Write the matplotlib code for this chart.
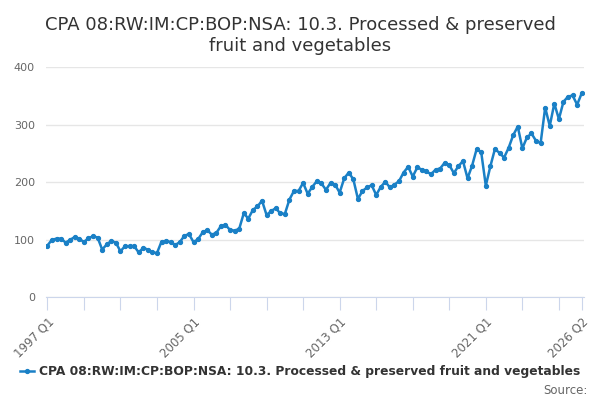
import matplotlib
matplotlib.use('Agg')
import matplotlib.pyplot as plt

plt.rcParams['font.family'] = ['DejaVu Sans']

# quarters 1997 Q1 .. 2026 Q2
quarters = ['%d Q%d' % (y, q) for y in range(1997, 2027) for q in range(1, 5)][:118]

values = [
    90, 100, 102, 102, 95, 100, 105, 102, 96, 103, 106, 104,
    83, 92, 98, 95, 80, 89, 89, 89, 78, 86, 83, 78,
    77, 97, 98, 96, 91, 96, 107, 110, 96, 101, 113, 117,
    109, 112, 124, 126, 117, 116, 119, 146, 137, 152, 158, 168,
    143, 150, 155, 146, 145, 170, 185, 185, 199, 180, 192, 202,
    198, 187, 199, 196, 182, 207, 217, 205, 171, 185, 191, 195,
    178, 192, 201, 191, 196, 202, 217, 227, 210, 226, 222, 219,
    214, 222, 224, 234, 230, 216, 228, 237, 207, 229, 258, 252,
    194, 228, 258, 251, 243, 260, 282, 297, 259, 278, 285, 272,
    268, 330, 298, 337, 310, 340, 349, 351, 335, 355,
]

shown_labels = ['1997 Q1', '2005 Q1', '2013 Q1', '2021 Q1', '2026 Q2']
series_name = 'CPA 08:RW:IM:CP:BOP:NSA: 10.3. Processed & preserved fruit and vegetables'
line_color = '#1a80c6'

fig = plt.figure(figsize=(6, 4), dpi=100)
ax = fig.add_axes([46 / 600, 1 - 297.3 / 400, (584 - 46) / 600, (297.3 - 67.3) / 400])

x = list(range(len(values)))
line, = ax.plot(x, values, color=line_color, lw=1.8, marker='o', ms=2.8, label=series_name)

ax.set_ylim(0, 400)
ax.set_xlim(-0.3, len(values) - 0.5)
ax.set_yticks([0, 100, 200, 300, 400])
ax.yaxis.grid(True, color='#e6e6e6', lw=1)
ax.set_axisbelow(True)
ax.tick_params(axis='y', length=0, labelsize=8, labelcolor='#666666', pad=8)

# ticks every 2 years plus the last quarter
tick_pos = list(range(0, len(values), 8)) + [len(values) - 1]
tick_lab = [quarters[p] if quarters[p] in shown_labels else '' for p in tick_pos]
ax.set_xticks(tick_pos)
ax.set_xticklabels(tick_lab, rotation=45, ha='right', rotation_mode='anchor')
ax.tick_params(axis='x', length=9, color='#ccd6eb', labelsize=8.5, labelcolor='#666666', pad=4)

for s in ['top', 'right', 'left']:
    ax.spines[s].set_visible(False)
ax.spines['bottom'].set_color('#ccd6eb')

fig.text(0.5, 0.96, 'CPA 08:RW:IM:CP:BOP:NSA: 10.3. Processed & preserved\nfruit and vegetables',
         ha='center', va='top', fontsize=13, color='#333333', linespacing=1.2)

fig.legend(handles=[line], loc='center', bbox_to_anchor=(0.5, 0.07), frameon=False,
           prop={'size': 8.8, 'weight': 'bold'}, labelcolor='#333333',
           handlelength=1.2, handletextpad=0.4)

fig.text(588 / 600, 1 - 390 / 400, 'Source:', ha='right', va='center', fontsize=8.5, color='#666666')

fig.savefig('out.png', dpi=100)
